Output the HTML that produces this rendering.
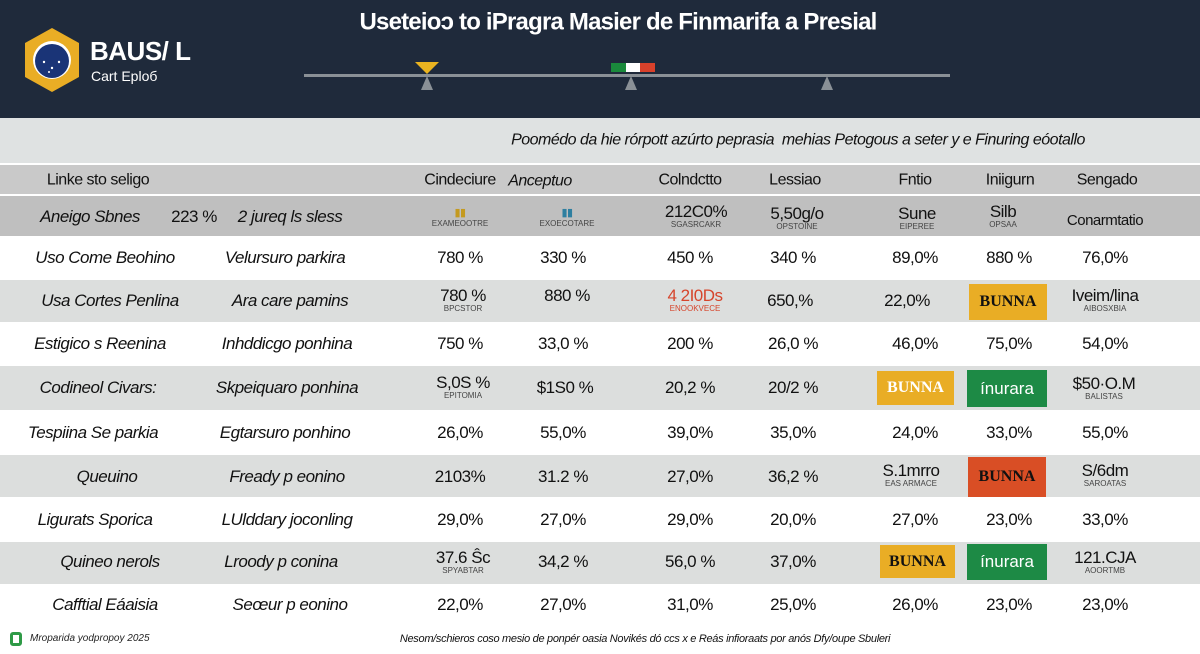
<!DOCTYPE html><html><head><meta charset="utf-8"><style>
*{margin:0;padding:0;box-sizing:border-box}
body{width:1200px;height:654px;overflow:hidden;background:#fff;font-family:"Liberation Sans",sans-serif;position:relative;color:#111}
.a{position:absolute}
.c{position:absolute;transform:translate(-50%,-50%);white-space:nowrap;text-align:center;font-size:17px;letter-spacing:-0.5px;line-height:1.05}
.i{font-style:italic}
.s{display:block;font-size:8px;letter-spacing:0;color:#444;font-style:normal}
.badge{position:absolute;display:flex;align-items:center;justify-content:center;font-family:"Liberation Serif",serif;font-weight:bold;font-size:16px}
</style></head><body>
<div class="a" style="left:0;top:0;width:1200px;height:118px;background:#1f2a3b"></div>
<div class="a" style="left:0;top:118px;width:1200px;height:45px;background:#dfe2e2"></div>
<div class="c" style="left:618px;top:22px;color:#fff;font-size:24px;font-weight:bold;letter-spacing:-0.8px">Useteioↄ to iPragra Masier de Finmarifa a Presial</div>
<svg class="a" style="left:22px;top:26px" width="60" height="68"><polygon points="30,2 57,17 57,51 30,66 3,51 3,17" fill="#e9ad25"/><circle cx="30" cy="34" r="19" fill="#fff"/><circle cx="30" cy="35" r="17" fill="#1a3477"/><g fill="#fff"><circle cx="22" cy="36" r="1.2"/><circle cx="30" cy="42" r="1.2"/><circle cx="37" cy="36" r="1.2"/><circle cx="27" cy="46" r="1"/></g></svg>
<div class="a" style="left:90px;top:36px;color:#fff;font-size:26px;font-weight:bold;letter-spacing:-0.5px">BAUS/ L</div>
<div class="a" style="left:91px;top:68px;color:#fff;font-size:14px">Cart Eplоб</div>
<div class="a" style="left:304px;top:74px;width:646px;height:3px;background:#8a9096"></div>
<svg class="a" style="left:412px;top:62px" width="30" height="30"><polygon points="3,0 27,0 15,12" fill="#eab320"/><polygon points="15,14 21,28 9,28" fill="#8a9096"/></svg>
<svg class="a" style="left:616px;top:76px" width="30" height="16"><polygon points="15,0 21,14 9,14" fill="#8a9096"/></svg>
<svg class="a" style="left:812px;top:76px" width="30" height="16"><polygon points="15,0 21,14 9,14" fill="#8a9096"/></svg>
<div class="a" style="left:611px;top:63px;width:44px;height:9px;display:flex"><div style="flex:1;background:#1a8a3c"></div><div style="flex:1;background:#fff"></div><div style="flex:1;background:#d8412b"></div></div>
<div class="c i" style="left:798px;top:141px;font-size:16px">Poomédo da hie rórpott azúrto peprasia &nbsp;mehias Petogous a seter y e Finuring eóotallo</div>
<div class="a" style="left:0;top:163px;width:1200px;height:33px;background:#c9c9c9;border-top:2px solid #fff;border-bottom:2px solid #fff"></div>
<div class="a" style="left:0;top:196px;width:1200px;height:40px;background:#bfbfbf"></div>
<div class="a" style="left:0;top:280px;width:1200px;height:42px;background:#dcdedd"></div>
<div class="a" style="left:0;top:366px;width:1200px;height:44px;background:#dcdedd"></div>
<div class="a" style="left:0;top:455px;width:1200px;height:42px;background:#dcdedd"></div>
<div class="a" style="left:0;top:542px;width:1200px;height:42px;background:#dcdedd"></div>
<div class="c" style="left:98px;top:181px;font-size:16px">Linke sto seligo</div>
<div class="c" style="left:460px;top:181px;font-size:16px">Cindeciure</div>
<div class="c i" style="left:540px;top:182px;font-size:16px">Anceptuo</div>
<div class="c" style="left:690px;top:181px;font-size:16px">Colndctto</div>
<div class="c" style="left:795px;top:181px;font-size:16px">Lessiao</div>
<div class="c" style="left:915px;top:181px;font-size:16px">Fntio</div>
<div class="c" style="left:1010px;top:181px;font-size:16px">Iniigurn</div>
<div class="c" style="left:1107px;top:181px;font-size:16px">Sengado</div>
<div class="c i" style="left:90px;top:217px">Aneigo Sbnes</div>
<div class="c" style="left:194px;top:217px">223 %</div>
<div class="c i" style="left:290px;top:217px">2 jureq ls sless</div>
<div class="c" style="left:460px;top:218px;font-size:11px;color:#c49a20">▮▮<span class="s">EXAMEOOTRE</span></div>
<div class="c" style="left:567px;top:218px;font-size:11px;color:#2e7fa0">▮▮<span class="s">EXOECOTARE</span></div>
<div class="c" style="left:696px;top:216px">212C0%<span class="s">SGASRCAKR</span></div>
<div class="c" style="left:797px;top:218px">5,50g/o<span class="s">OPSTOINE</span></div>
<div class="c" style="left:917px;top:218px">Sune<span class="s">EIPEREE</span></div>
<div class="c" style="left:1003px;top:216px">Silb<span class="s">OPSAA</span></div>
<div class="c" style="left:1105px;top:221px;font-size:15px">Conarmtatio</div>

<div class="c i" style="left:105px;top:258px">Uso Come Beohino</div><div class="c i" style="left:285px;top:258px">Velursuro parkira</div>
<div class="c" style="left:460px;top:258px">780 %</div><div class="c" style="left:563px;top:258px">330 %</div><div class="c" style="left:690px;top:258px">450 %</div><div class="c" style="left:793px;top:258px">340 %</div><div class="c" style="left:915px;top:258px">89,0%</div><div class="c" style="left:1009px;top:258px">880 %</div><div class="c" style="left:1105px;top:258px">76,0%</div>

<div class="c i" style="left:110px;top:301px">Usa Cortes Penlina</div><div class="c i" style="left:290px;top:301px">Ara care pamins</div>
<div class="c" style="left:463px;top:300px">780 %<span class="s">BPCSTOR</span></div><div class="c" style="left:567px;top:296px">880 %</div><div class="c" style="left:695px;top:300px;color:#d6452c">4 2I0Ds<span class="s" style="color:#d6452c">ENOOKVECE</span></div><div class="c" style="left:790px;top:301px">650,%</div><div class="c" style="left:907px;top:301px">22,0%</div>
<div class="badge" style="left:969px;top:284px;width:78px;height:36px;background:#e9ad25">BUNNA</div>
<div class="c" style="left:1105px;top:300px">Iveim/lina<span class="s">AIBOSXBIA</span></div>

<div class="c i" style="left:100px;top:344px">Estigico s Reenina</div><div class="c i" style="left:287px;top:344px">Inhddicgo ponhina</div>
<div class="c" style="left:460px;top:344px">750 %</div><div class="c" style="left:563px;top:344px">33,0 %</div><div class="c" style="left:690px;top:344px">200 %</div><div class="c" style="left:793px;top:344px">26,0 %</div><div class="c" style="left:915px;top:344px">46,0%</div><div class="c" style="left:1009px;top:344px">75,0%</div><div class="c" style="left:1105px;top:344px">54,0%</div>

<div class="c i" style="left:98px;top:388px">Codineol Civars:</div><div class="c i" style="left:287px;top:388px">Skpeiquaro ponhina</div>
<div class="c" style="left:463px;top:387px">S,0S %<span class="s">EPITOMIA</span></div><div class="c" style="left:565px;top:388px">$1S0 %</div><div class="c" style="left:690px;top:388px">20,2 %</div><div class="c" style="left:793px;top:388px">20/2 %</div>
<div class="badge" style="left:877px;top:371px;width:77px;height:34px;background:#e9ad25;color:#fff">BUNNA</div>
<div class="badge" style="left:967px;top:370px;width:80px;height:37px;background:#1d8a45;color:#fff;font-family:'Liberation Sans',sans-serif;font-weight:normal;font-size:17px">ínurara</div>
<div class="c" style="left:1104px;top:388px">$50·O.M<span class="s">BALISTAS</span></div>

<div class="c i" style="left:93px;top:433px">Tespiina Se parkia</div><div class="c i" style="left:285px;top:433px">Egtarsuro ponhino</div>
<div class="c" style="left:460px;top:433px">26,0%</div><div class="c" style="left:563px;top:433px">55,0%</div><div class="c" style="left:690px;top:433px">39,0%</div><div class="c" style="left:793px;top:433px">35,0%</div><div class="c" style="left:915px;top:433px">24,0%</div><div class="c" style="left:1009px;top:433px">33,0%</div><div class="c" style="left:1105px;top:433px">55,0%</div>

<div class="c i" style="left:107px;top:477px">Queuino</div><div class="c i" style="left:287px;top:477px">Fready p eonino</div>
<div class="c" style="left:460px;top:477px">2103%</div><div class="c" style="left:563px;top:477px">31.2 %</div><div class="c" style="left:690px;top:477px">27,0%</div><div class="c" style="left:793px;top:477px">36,2 %</div><div class="c" style="left:911px;top:475px">S.1mrro<span class="s">EAS ARMACE</span></div>
<div class="badge" style="left:968px;top:457px;width:78px;height:40px;background:#d94e25">BUNNA</div>
<div class="c" style="left:1105px;top:475px">S/6dm<span class="s">SAROATAS</span></div>

<div class="c i" style="left:95px;top:520px">Ligurats Sporica</div><div class="c i" style="left:287px;top:520px">LUlddary joconling</div>
<div class="c" style="left:460px;top:520px">29,0%</div><div class="c" style="left:563px;top:520px">27,0%</div><div class="c" style="left:690px;top:520px">29,0%</div><div class="c" style="left:793px;top:520px">20,0%</div><div class="c" style="left:915px;top:520px">27,0%</div><div class="c" style="left:1009px;top:520px">23,0%</div><div class="c" style="left:1105px;top:520px">33,0%</div>

<div class="c i" style="left:110px;top:562px">Quineo nerols</div><div class="c i" style="left:281px;top:562px">Lroody p conina</div>
<div class="c" style="left:463px;top:562px">37.6 Ŝc<span class="s">SPYABTAR</span></div><div class="c" style="left:563px;top:562px">34,2 %</div><div class="c" style="left:690px;top:562px">56,0 %</div><div class="c" style="left:793px;top:562px">37,0%</div>
<div class="badge" style="left:880px;top:545px;width:75px;height:33px;background:#e9ad25">BUNNA</div>
<div class="badge" style="left:967px;top:544px;width:80px;height:36px;background:#1d8a45;color:#fff;font-family:'Liberation Sans',sans-serif;font-weight:normal;font-size:17px">ínurara</div>
<div class="c" style="left:1105px;top:562px">121.CJA<span class="s">AOORTMB</span></div>

<div class="c i" style="left:105px;top:605px">Cafftial Eáaisia</div><div class="c i" style="left:290px;top:605px">Seœur p eonino</div>
<div class="c" style="left:460px;top:605px">22,0%</div><div class="c" style="left:563px;top:605px">27,0%</div><div class="c" style="left:690px;top:605px">31,0%</div><div class="c" style="left:793px;top:605px">25,0%</div><div class="c" style="left:915px;top:605px">26,0%</div><div class="c" style="left:1009px;top:605px">23,0%</div><div class="c" style="left:1105px;top:605px">23,0%</div>

<div class="a" style="left:10px;top:632px;width:12px;height:14px;border:3px solid #2e9a46;border-radius:3px"></div>
<div class="a i" style="left:30px;top:633px;font-size:10px;color:#222">Mroparida yodpropoy 2025</div>
<div class="c i" style="left:645px;top:640px;font-size:11px;letter-spacing:-0.3px">Nesom/schieros coso mesio de ponpér oasia Novikés dó ccs x e Reás infioraats por anós Dfy/oupe Sbuleri</div>
</body></html>
